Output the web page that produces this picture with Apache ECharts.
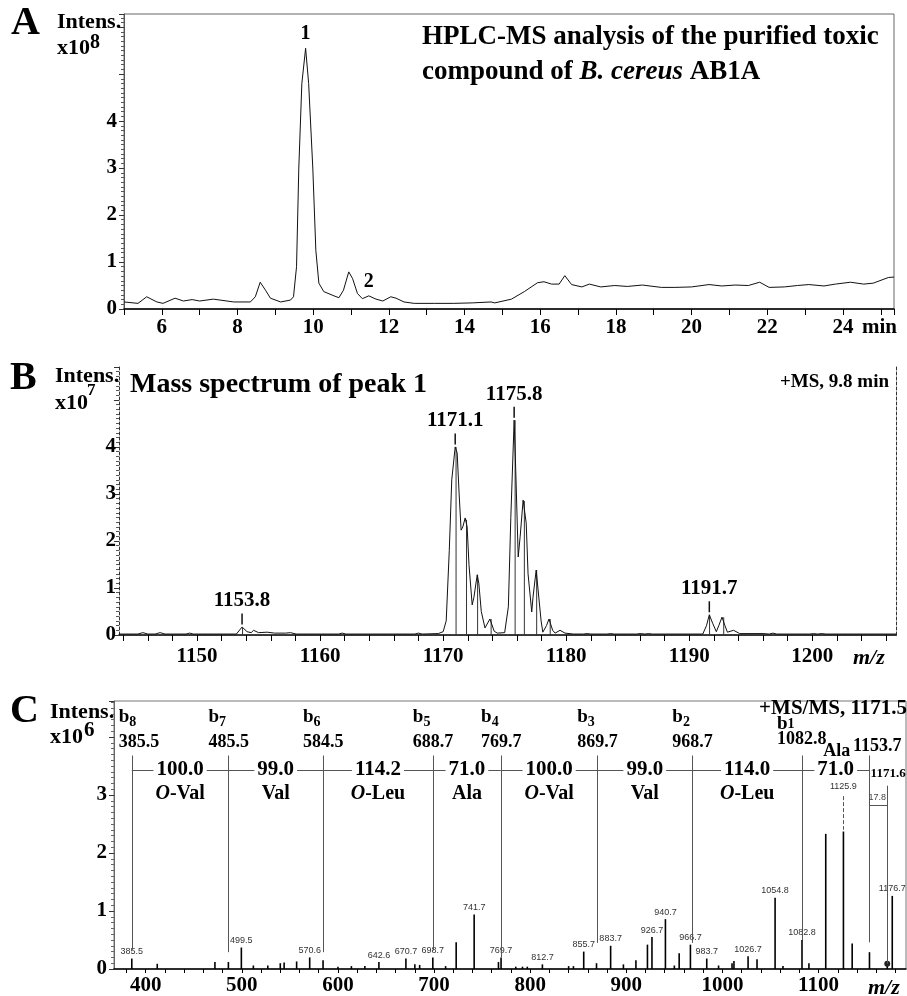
<!DOCTYPE html>
<html>
<head>
<meta charset="utf-8">
<script src="https://cdn.jsdelivr.net/npm/echarts@6/dist/echarts.min.js"></script>
<style>
html, body { margin: 0; padding: 0; background: #fff; }
#chart { width: 907px; height: 996px; }
</style>
</head>
<body>
<div id="chart"></div>
<script>
/*
 * HPLC-MS figure : A chromatogram, B mass spectrum, C MS/MS spectrum
 */

// A : retention time (min), intensity (x10^8)
var chromA = [
	[5.0,0.15],[5.37,0.12],[5.6,0.26],[5.87,0.15],[6.03,0.12],[6.35,0.23],[6.57,0.17],[6.8,0.2],
	[7.0,0.17],[7.36,0.21],[7.9,0.15],[8.34,0.15],[8.47,0.26],[8.6,0.57],[8.74,0.4],[8.87,0.23],
	[9.14,0.15],[9.4,0.19],[9.48,0.26],[9.56,0.9],[9.62,3.0],[9.7,4.8],[9.8,5.55],[9.88,4.8],
	[9.99,3.0],[10.07,1.25],[10.15,0.55],[10.28,0.37],[10.55,0.28],[10.68,0.24],[10.8,0.4],[10.94,0.79],
	[11.04,0.65],[11.17,0.33],[11.3,0.22],[11.47,0.28],[11.66,0.21],[11.84,0.17],[12.05,0.26],[12.19,0.23],
	[12.4,0.15],[12.67,0.12],[13.2,0.12],[13.7,0.12],[14.2,0.13],[14.7,0.15],[14.8,0.13],[15.24,0.21],
	[15.58,0.37],[15.93,0.56],[16.1,0.58],[16.3,0.53],[16.5,0.53],[16.65,0.71],[16.83,0.52],[17.1,0.47],
	[17.3,0.53],[17.6,0.47],[17.97,0.5],[18.3,0.48],[18.7,0.51],[19.2,0.46],[19.56,0.46],[20.0,0.47],
	[20.46,0.52],[20.8,0.49],[21.15,0.51],[21.5,0.5],[21.8,0.57],[22.05,0.46],[22.45,0.47],[22.8,0.5],
	[23.1,0.52],[23.5,0.49],[23.8,0.53],[24.2,0.57],[24.55,0.53],[24.8,0.55],[25.2,0.67],[25.35,0.68]
];
var peaksA = [['1', 9.8, 5.55], ['2', 11.47, 0.28]];

// B : m/z, intensity (x10^7)
var specB = [
	[1143.66,0.02],[1145.2,0.02],[1145.6,0.05],[1146.0,0.02],[1146.6,0.02],[1147.0,0.05],[1147.4,0.02],
	[1149.1,0.02],[1149.4,0.04],[1149.7,0.02],[1153.2,0.02],[1153.66,0.17],[1154.07,0.07],[1154.4,0.05],
	[1154.6,0.1],[1155.0,0.05],[1155.7,0.06],[1156.3,0.04],[1157.2,0.04],[1157.6,0.05],[1158.05,0.02],
	[1161.5,0.02],[1161.8,0.04],[1162.1,0.02],[1167.7,0.02],[1168.0,0.04],[1168.3,0.02],[1169.6,0.03],
	[1170.0,0.07],[1170.25,0.3],[1170.5,1.8],[1170.7,3.3],[1170.98,4.0],[1171.14,3.87],[1171.3,3.0],
	[1171.46,2.23],[1171.6,2.3],[1171.79,2.49],[1171.95,2.3],[1172.1,1.5],[1172.36,0.64],[1172.5,0.8],
	[1172.77,1.28],[1172.9,1.1],[1173.1,0.5],[1173.4,0.15],[1173.8,0.34],[1174.15,0.08],[1174.4,0.04],
	[1175.0,0.05],[1175.3,0.6],[1175.5,2.5],[1175.77,4.57],[1175.9,3.5],[1176.1,1.66],[1176.26,2.1],
	[1176.5,2.87],[1176.75,2.38],[1176.9,1.3],[1177.2,0.49],[1177.3,0.8],[1177.56,1.38],[1177.7,1.0],
	[1177.96,0.3],[1178.1,0.06],[1178.4,0.2],[1178.6,0.34],[1178.9,0.1],[1179.1,0.04],[1179.5,0.1],
	[1179.9,0.04],[1180.6,0.02],[1181.4,0.02],[1181.7,0.03],[1182.0,0.02],[1183.3,0.02],[1183.6,0.03],
	[1183.9,0.02],[1185.7,0.02],[1186.0,0.03],[1186.4,0.02],[1186.7,0.03],[1187.0,0.02],[1191.1,0.02],
	[1191.4,0.2],[1191.63,0.43],[1191.9,0.25],[1192.2,0.07],[1192.4,0.2],[1192.66,0.38],[1192.9,0.2],
	[1193.1,0.06],[1193.6,0.1],[1194.1,0.03],[1196.0,0.03],[1196.5,0.02],[1196.8,0.04],[1197.1,0.02],
	[1199.8,0.02],[1200.1,0.03],[1200.4,0.02],[1200.8,0.03],[1201.1,0.02],[1206.8,0.02]
];
var sticksB = [
	[1153.7,0.15],[1171.05,4.0],[1171.9,2.45],[1172.8,1.28],[1173.9,0.34],[1175.85,4.57],
	[1176.6,2.85],[1177.6,1.38],[1178.7,0.34],[1191.65,0.43],[1192.8,0.38]
];
var peakLabelsB = [['1153.8',1153.66,0.17],['1171.1',1170.98,4.0],['1175.8',1175.77,4.57],['1191.7',1191.63,0.43]];
var ticksB = [];
for (var t = 1144; t <= 1206; t += 2) ticksB.push(t);
var labelsB = [1150, 1160, 1170, 1180, 1190, 1200];

// C : MS/MS m/z, intensity (x10^6)
var sticksC = [
	[385.5,0.18],[412,0.09],[472,0.12],[486,0.12],[499.5,0.37],[512,0.06],[527,0.06],[540,0.1],
	[544,0.11],[557,0.13],[570.6,0.2],[584.5,0.15],[600,0.04],[614,0.05],[628,0.05],[642.6,0.12],
	[670.7,0.18],[680,0.08],[685,0.07],[698.7,0.2],[712,0.05],[723,0.46],[741.7,0.94],[767,0.12],
	[769.7,0.2],[785,0.04],[792,0.04],[797,0.04],[812.7,0.08],[840,0.05],[845,0.05],[855.7,0.3],
	[869,0.1],[883.7,0.4],[897,0.08],[910,0.15],[922,0.42],[926.7,0.55],[940.7,0.86],[950,0.06],
	[955,0.27],[966.7,0.42],[983.7,0.18],[996,0.06],[1010,0.1],[1012,0.14],[1026.7,0.22],[1036,0.17],
	[1054.8,1.23],[1063,0.05],[1082.8,0.5],[1090,0.1],[1107.5,2.33],[1125.9,2.37],[1135,0.44],
	[1153,0.29],[1171.5,0.08],[1176.7,1.26]
];
var labeledC = [385.5,499.5,570.6,642.6,670.7,698.7,741.7,769.7,812.7,855.7,883.7,926.7,940.7,
	966.7,983.7,1026.7,1054.8,1082.8,1176.7];
// b ions : name, labelled m/z, m/z where the line is drawn, bottom of the line
var bIons = [
	['8','385.5',385.5,0.33],['7','485.5',486,0.29],['6','584.5',584.5,0.29],['5','688.7',698.7,0.32],
	['4','769.7',769.7,0.2],['3','869.7',869.7,0.45],['2','968.7',968.7,0.45],['1','1082.8',1082.8,0.5]
];
var lossC = ['100.0','99.0','114.2','71.0','100.0','99.0','114.0','71.0'];
var residueC = ['O-Val','Val','O-Leu','Ala','O-Val','Val','O-Leu','Ala'];
var ticksC = [];
for (var t2 = 380; t2 <= 1180; t2 += 20) ticksC.push(t2);
var labelsC = [400, 500, 600, 700, 800, 900, 1000, 1100];

var SERIF = '"Liberation Serif", "Times New Roman", serif';
var SANS = '"Liberation Sans", Arial, sans-serif';
var HIDDEN = { color: 'rgba(0,0,0,0)', opacity: 1 };

var chart = echarts.init(document.getElementById('chart'));

function tickFont(extra) {
	var o = { color: '#000', fontFamily: SERIF, fontWeight: 'bold', fontSize: 21 };
	for (var k in extra) o[k] = extra[k];
	return o;
}
function plain(v) { return String(v); }
function gtext(x, y, text, font, extra) {
	var s = { text: text, font: font, fill: '#000', verticalAlign: 'middle', align: 'left' };
	for (var k in extra) s[k] = extra[k];
	return { type: 'text', x: x, y: y, z: 100, style: s };
}

// C annotation labels
var annC = [];
var topLine = 3.68, lossY = 3.43, resY = 3.02;
var linePos = bIons.map(function (b) { return b[2]; }).concat([1153]);
for (var i = 0; i < bIons.length; i++) {
	var b = bIons[i];
	var off = b[1].length > 5 ? -25 : -20;
	if (i === 0) off = -13;
	var lh = b[0] === '1' ? 16 : 25;
	annC.push({
		value: [b[2], b[0] === '1' ? 4.09 : 4.13],
		label: {
			align: 'left', offset: [off, 0],
			formatter: '{b|b}{s|' + b[0] + '}\n{n|' + b[1] + '}',
			rich: {
				b: { color: '#000', fontFamily: SERIF, fontWeight: 'bold', fontSize: 19, lineHeight: lh, verticalAlign: 'middle' },
				s: { color: '#000', fontFamily: SERIF, fontWeight: 'bold', fontSize: 14, lineHeight: lh, verticalAlign: 'bottom' },
				n: { color: '#000', fontFamily: SERIF, fontWeight: 'bold', fontSize: 18, lineHeight: lh }
			}
		}
	});
}
for (var j = 0; j < lossC.length; j++) {
	var mid = (linePos[j] + linePos[j + 1]) / 2;
	annC.push({
		value: [mid, lossY],
		label: { formatter: lossC[j], fontSize: 21, backgroundColor: '#fff', padding: [0, 3] }
	});
	var r = residueC[j];
	var last = j === lossC.length - 1;
	annC.push({
		value: last ? [1119, 3.75] : [mid, resY],
		label: {
			formatter: r.indexOf('O-') === 0 ? '{i|O}{r|' + r.slice(1) + '}' : '{r|' + r + '}',
			fontSize: last ? 18 : 20,
			rich: {
				i: { color: '#000', fontFamily: SERIF, fontWeight: 'bold', fontStyle: 'italic', fontSize: 20 },
				r: { color: '#000', fontFamily: SERIF, fontWeight: 'bold', fontSize: last ? 18 : 20 }
			}
		}
	});
}
annC.push({ value: [1161, 3.83], label: { formatter: '1153.7', fontSize: 18 } });
annC.push({ value: [1172.4, 3.36], label: { formatter: '1171.6', fontSize: 13 } });
annC.push({ value: [1161, 2.96], label: { formatter: '17.8', fontSize: 9, fontFamily: SANS, fontWeight: 'normal', color: '#444' } });

var cLines = [];
bIons.forEach(function (b) {
	cLines.push([{ coord: [b[2], topLine] }, { coord: [b[2], b[3]] }]);
});
cLines.push([{ coord: [1153, topLine] }, { coord: [1153, 0.46] }]);
cLines.push([{ coord: [1171.5, 3.16] }, { coord: [1171.5, 0.09] }]);
cLines.push([{ coord: [385.5, lossY] }, { coord: [1153, lossY] }]);
cLines.push([{ coord: [1153, 2.83] }, { coord: [1171.5, 2.83] }]);
cLines.push([{ coord: [1125.9, 2.98], lineStyle: { type: 'dashed' } }, { coord: [1125.9, 2.4] }]);

function stickOf(m) {
	for (var k = 0; k < sticksC.length; k++) if (sticksC[k][0] === m) return sticksC[k][1];
	return 0;
}

var option = {
	animation: false,
	backgroundColor: '#fff',
	grid: [
		{ left: 124, top: 14, width: 770, height: 295, show: true, borderColor: '#666', borderWidth: 1 },
		{ left: 119, top: 367, width: 777, height: 268 },
		{ left: 114, top: 701, right: 1, height: 271, show: true, borderColor: '#777', borderWidth: 1 }
	],
	xAxis: [
		{
			type: 'value', gridIndex: 0, min: 5, max: 25.35, interval: 1,
			axisLine: { lineStyle: { color: '#000', width: 1.5 } },
			axisTick: { length: 6, lineStyle: { color: '#000' } },
			axisLabel: tickFont({ margin: 8, formatter: function (v) { return Math.abs(v % 2) < 1e-9 ? String(v) : ''; } }),
			splitLine: { show: false }
		},
		{
			type: 'value', gridIndex: 1, min: 1143.66, max: 1206.8,
			axisLine: { lineStyle: { color: '#000', width: 1.5 } },
			axisTick: { length: 6, customValues: ticksB, lineStyle: { color: '#000' } },
			axisLabel: tickFont({ margin: 11, customValues: labelsB, formatter: plain }),
			splitLine: { show: false }
		},
		{
			type: 'value', gridIndex: 2, min: 367, max: 1191,
			axisLine: { lineStyle: { color: '#000', width: 1.5 } },
			axisTick: { length: 4, customValues: ticksC, lineStyle: { color: '#000' } },
			axisLabel: tickFont({ margin: 6, customValues: labelsC, formatter: plain }),
			splitLine: { show: false }
		},
		{
			type: 'value', gridIndex: 1, position: 'top', min: 1143.66, max: 1206.8,
			axisLine: { lineStyle: { color: '#333', width: 1, type: [3, 2] } },
			axisTick: { show: false }, axisLabel: { show: false }, splitLine: { show: false }
		}
	],
	yAxis: [
		{
			type: 'value', gridIndex: 0, min: 0, max: 6.28, interval: 1,
			axisLine: { show: true, lineStyle: { color: '#555', width: 1 } },
			axisTick: { show: true, length: 5, lineStyle: { color: '#333' } },
			minorTick: { show: true, splitNumber: 10, length: 3, lineStyle: { color: '#555' } },
			axisLabel: tickFont({ margin: 7, formatter: function (v) { return v <= 4 ? String(v) : ''; } }),
			splitLine: { show: false }
		},
		{
			type: 'value', gridIndex: 1, min: 0, max: 5.7, interval: 1,
			axisLine: { show: true, lineStyle: { color: '#333', width: 1, type: [3, 2] } },
			axisTick: { show: true, length: 5, lineStyle: { color: '#333' } },
			minorTick: { show: true, splitNumber: 10, length: 3, lineStyle: { color: '#555' } },
			axisLabel: tickFont({ margin: 3, formatter: function (v) { return v <= 4 ? String(v) : ''; } }),
			splitLine: { show: false }
		},
		{
			type: 'value', gridIndex: 2, min: 0, max: 4.62, interval: 1,
			axisLine: { show: true, lineStyle: { color: '#666', width: 1 } },
			axisTick: { show: true, length: 5, lineStyle: { color: '#333' } },
			minorTick: { show: true, splitNumber: 10, length: 3, lineStyle: { color: '#666' } },
			axisLabel: tickFont({ margin: 7, formatter: function (v) { return v <= 3 ? String(v) : ''; } }),
			splitLine: { show: false }
		},
		{
			type: 'value', gridIndex: 1, position: 'right', min: 0, max: 5.7,
			axisLine: { show: true, lineStyle: { color: '#333', width: 1, type: [3, 2] } },
			axisTick: { show: false }, axisLabel: { show: false }, splitLine: { show: false }
		}
	],
	series: [
		{
			type: 'line', xAxisIndex: 0, yAxisIndex: 0, data: chromA,
			symbol: 'none', lineStyle: { color: '#111', width: 1 }, silent: true
		},
		{
			type: 'scatter', xAxisIndex: 0, yAxisIndex: 0, symbolSize: 1, itemStyle: HIDDEN,
			data: peaksA.map(function (p) { return { name: p[0], value: [p[1], p[2]] }; }),
			label: { show: true, position: 'top', distance: 4, formatter: '{b}', color: '#000',
				fontFamily: SERIF, fontWeight: 'bold', fontSize: 20 }
		},
		{
			type: 'line', xAxisIndex: 1, yAxisIndex: 1, data: specB,
			symbol: 'none', lineStyle: { color: '#111', width: 1 }, silent: true
		},
		{
			type: 'bar', xAxisIndex: 1, yAxisIndex: 1, data: sticksB, barWidth: 1,
			itemStyle: { color: '#333' }, silent: true
		},
		{
			type: 'scatter', xAxisIndex: 1, yAxisIndex: 1, symbol: 'rect',
			symbolSize: [1.5, 11], symbolOffset: [0, -8], itemStyle: { color: '#111', opacity: 1 },
			data: peakLabelsB.map(function (p) { return { name: p[0], value: [p[1], p[2]] }; }),
			label: { show: true, position: 'top', distance: 2, formatter: '{b}', color: '#000',
				fontFamily: SERIF, fontWeight: 'bold', fontSize: 21 }
		},
		{
			type: 'bar', xAxisIndex: 2, yAxisIndex: 2, data: sticksC, barWidth: 1.6,
			itemStyle: { color: '#000' }, silent: true,
			markLine: {
				silent: true, symbol: ['none', 'none'], label: { show: false },
				lineStyle: { color: '#555', width: 1, type: 'solid' },
				data: cLines
			}
		},
		{
			type: 'scatter', xAxisIndex: 2, yAxisIndex: 2, symbolSize: 1, itemStyle: HIDDEN,
			data: labeledC.map(function (m) { return { name: String(m), value: [m, stickOf(m)] }; })
				.concat([{ name: '1125.9', value: [1125.9, 3.02] }]),
			label: { show: true, position: 'top', distance: 2, formatter: '{b}', color: '#333',
				fontFamily: SANS, fontSize: 9 }
		},
		{
			type: 'scatter', xAxisIndex: 2, yAxisIndex: 2, symbolSize: 1, z: 10, itemStyle: HIDDEN,
			data: annC,
			label: { show: true, position: 'inside', color: '#000',
				fontFamily: SERIF, fontWeight: 'bold', fontSize: 20 }
		},
		{
			type: 'scatter', xAxisIndex: 2, yAxisIndex: 2, symbol: 'circle', symbolSize: 6,
			itemStyle: { color: '#222', opacity: 1 }, data: [[1171.5, 0.09]], silent: true
		}
	],
	graphic: [
		gtext(11, 24, 'A', 'bold 40px ' + SERIF),
		gtext(57, 22, 'Intens.', 'bold 22px ' + SERIF),
		gtext(57, 48, 'x10', 'bold 22px ' + SERIF),
		gtext(90, 43, '8', 'bold 20px ' + SERIF),
		gtext(422, 37, 'HPLC-MS analysis of the purified toxic', 'bold 27px ' + SERIF),
		{
			type: 'text', x: 422, y: 72, z: 100,
			style: {
				text: '{n|compound of }{i|B. cereus}{n| AB1A}', verticalAlign: 'middle', align: 'left',
				rich: {
					n: { font: 'bold 27px ' + SERIF, fill: '#000' },
					i: { font: 'italic bold 27px ' + SERIF, fill: '#000' }
				}
			}
		},
		gtext(862, 328, 'min', 'bold 21px ' + SERIF),

		gtext(10, 379, 'B', 'bold 40px ' + SERIF),
		gtext(55, 376, 'Intens.', 'bold 22px ' + SERIF),
		gtext(55, 403, 'x10', 'bold 22px ' + SERIF),
		gtext(87, 391, '7', 'bold 17px ' + SERIF),
		gtext(130, 385, 'Mass spectrum of peak 1', 'bold 28px ' + SERIF),
		gtext(889, 382, '+MS, 9.8 min', 'bold 19px ' + SERIF, { align: 'right' }),
		gtext(853, 658, 'm/z', 'italic bold 22px ' + SERIF),

		gtext(10, 712, 'C', 'bold 40px ' + SERIF),
		gtext(50, 712, 'Intens.', 'bold 22px ' + SERIF),
		gtext(50, 737, 'x10', 'bold 22px ' + SERIF),
		gtext(84, 731, '6', 'bold 21px ' + SERIF),
		gtext(907, 709, '+MS/MS, 1171.5', 'bold 21px ' + SERIF, { align: 'right' }),
		gtext(868, 988, 'm/z', 'italic bold 22px ' + SERIF)
	]
};

chart.setOption(option);
</script>
</body>
</html>
